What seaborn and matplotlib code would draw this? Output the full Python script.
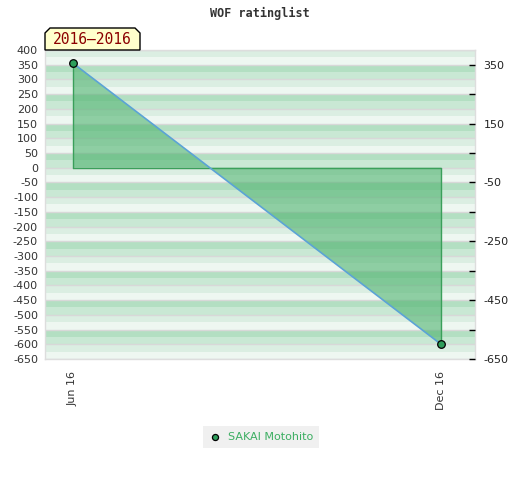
import matplotlib
matplotlib.use("Agg")
import matplotlib.pyplot as plt
from matplotlib.patches import Polygon
import numpy as np
import pandas as pd
import seaborn as sns

# ---- data ----
month_pos = [0, 6]                 # Jun 2016, Dec 2016 (months from Jun)
month_labels = ["Jun 16", "Dec 16"]
ratings = [355, -600]
player = "SAKAI Motohito"
title = "WOF ratinglist"
period_label = "2016–2016"
left_ticks = list(range(-650, 401, 50))
right_major = [350, 150, -50, -250, -450, -650]
right_minor = [250, 50, -150, -350, -550]

df = pd.DataFrame({"month": month_pos, "rating": ratings})

sns.set_theme(style="white")
plt.rcParams["font.family"] = ["DejaVu Sans"]

W, H = 520, 480
fig = plt.figure(figsize=(W / 100, H / 100), dpi=100)
ax = fig.add_axes([45 / W, 1 - 359 / H, 430 / W, 309 / H])

ymin, ymax = -650, 400
ax.set_ylim(ymin, ymax)
ax.set_xlim(-0.457, 6.554)

# striped background
band_cols = ["#dbeee2", "#eef7f1", "#b3dfc2", "#c9e8d4"]
edges = np.arange(ymax, ymin, -25)
for i, top in enumerate(edges):
    ax.axhspan(top - 25, top, color=band_cols[i % 4], lw=0, zorder=0)
for v in left_ticks:
    ax.axhline(v, color="#d8d8d8", lw=1, zorder=0.5)

# filled area between rating line and zero
ax.fill_between(df["month"], df["rating"], 0, facecolor="#4fb36f", alpha=0.6,
                edgecolor="none", zorder=1)
ax.plot([df["month"].iloc[0], df["month"].iloc[0]], [0, df["rating"].iloc[0]],
        color="#3a9f5a", lw=1, zorder=2)
ax.plot([df["month"].iloc[-1], df["month"].iloc[-1]], [0, df["rating"].iloc[-1]],
        color="#3a9f5a", lw=1, zorder=2)
ax.plot([df["month"].iloc[0], df["month"].iloc[-1]], [0, 0],
        color="#3a9f5a", lw=1, zorder=2)

sns.lineplot(data=df, x="month", y="rating", ax=ax, color="#5ba3d6", lw=1.2,
             zorder=3, legend=False)
sns.scatterplot(data=df, x="month", y="rating", ax=ax, color="#2e9e5b",
                edgecolor="black", linewidth=0.9, s=30, zorder=4,
                label=player)

ax.set_xlabel("")
ax.set_ylabel("")
ax.set_xticks(month_pos)
ax.set_xticklabels(month_labels, rotation=90, fontsize=8, color="#333333")
ax.set_yticks(left_ticks)
ax.set_yticklabels([str(v) for v in left_ticks], fontsize=8, color="#333333")
ax.tick_params(axis="y", length=0, pad=5)
ax.tick_params(axis="x", length=0, pad=9)
for s in ax.spines.values():
    s.set_color("#dddddd")
    s.set_linewidth(1)

ax2 = ax.twinx()
ax2.set_ylim(ymin, ymax)
ax2.set_yticks(right_major)
ax2.set_yticklabels([str(v) for v in right_major], fontsize=8, color="#222222")
ax2.set_yticks(right_minor, minor=True)
ax2.tick_params(axis="y", which="both", direction="in", length=4, width=1,
                color="black", pad=6)
for s in ax2.spines.values():
    s.set_visible(False)
ax2.grid(False)

# legend
leg = ax.legend(loc="center", bbox_to_anchor=(261 / W, 1 - 437 / H),
                bbox_transform=fig.transFigure, frameon=True, fancybox=False,
                facecolor="#f0f0f0", edgecolor="none", fontsize=8,
                labelcolor="#3cae62", handletextpad=0.6, borderpad=0.5,
                markerscale=0.8, handlelength=1.2)
leg.get_frame().set_alpha(1)

# title
fig.text(0.5, 1 - 13 / H, title, ha="center", va="center",
         family="DejaVu Sans Mono", weight="bold", fontsize=8.5, color="#333333")

# period label box with chamfered top corners
pts = [(45, 50), (45, 33), (50, 28), (135, 28), (140, 33), (140, 50)]
poly = Polygon([(x / W, 1 - y / H) for x, y in pts], closed=True,
               transform=fig.transFigure, facecolor="#ffffcc",
               edgecolor="black", lw=1, zorder=5)
fig.patches.append(poly)
fig.text(92.5 / W, 1 - 40 / H, period_label, ha="center", va="center",
         family="DejaVu Sans Mono", fontsize=10.5, color="#8b0000", zorder=6)

fig.savefig("out.png", dpi=100)
